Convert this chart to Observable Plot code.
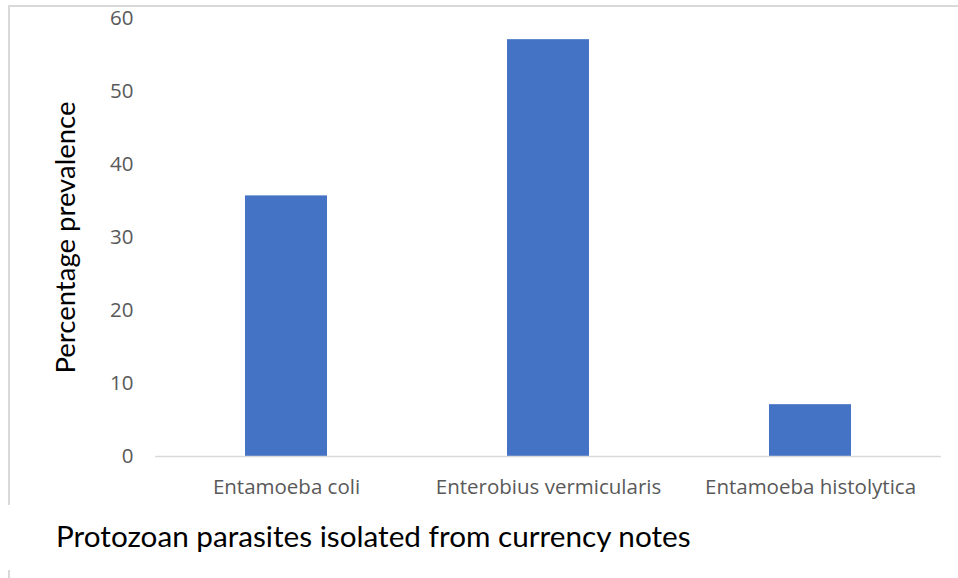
<!DOCTYPE html>
<html><head><meta charset="utf-8">
<script src="https://cdn.jsdelivr.net/npm/d3@7"></script>
<script src="https://cdn.jsdelivr.net/npm/@observablehq/plot@0.6"></script>
<style>
body{margin:0;background:#fff;font-family:"Open Sans",sans-serif;}
#frame{position:absolute;left:8px;top:5px;width:960px;height:498px;border-left:2px solid #d9d9d9;border-top:2px solid #d9d9d9;}
#frame2{position:absolute;left:8px;top:570px;width:10px;height:20px;border-left:2px solid #d9d9d9;}
#chart{position:absolute;left:0;top:0;}
#caption{position:absolute;left:56px;top:518px;font-size:29.7px;color:#000;white-space:nowrap;font-family:Lato,sans-serif;}
</style></head>
<body>
<div id="frame"></div><div id="frame2"></div>
<div id="chart"></div>
<div id="caption">Protozoan parasites isolated from currency notes</div>
<script>
const parasites = ["Entamoeba coli","Enterobius vermicularis","Entamoeba histolytica"];
const prevalence = [35.7, 57.1, 7.1];
const yTicks = [0,10,20,30,40,50,60];
const yLabel = "Percentage prevalence";
const data = parasites.map((p,i)=>({parasite:p, value:prevalence[i]}));
const chart = Plot.plot({
  width: 958, height: 505,
  marginLeft: 155, marginRight: 17, marginTop: 18, marginBottom: 49,
  style:{fontFamily:"Open Sans, sans-serif", background:"transparent"},
  x:{domain:parasites, paddingInner:0.687, paddingOuter:0.3435},
  y:{domain:[0,60]},
  marks:[
    Plot.barY(data,{x:"parasite", y:"value", fill:"#4472C4"}),
    Plot.ruleY([0],{stroke:"#d9d9d9", strokeWidth:1.5}),
    Plot.axisX({tickSize:0, tickPadding:23, fontSize:20.5, color:"#595959", label:null}),
    Plot.axisY({ticks:yTicks, tickSize:0, tickPadding:22, fontSize:20.5, color:"#595959", label:null}),
    Plot.text([yLabel],{frameAnchor:"left", dx:-89, rotate:-90, textAnchor:"middle", fontSize:27.5, fill:"#000", fontFamily:"Lato, sans-serif", text:d=>d})
  ]
});
document.getElementById("chart").appendChild(chart);
</script>
</body></html>
